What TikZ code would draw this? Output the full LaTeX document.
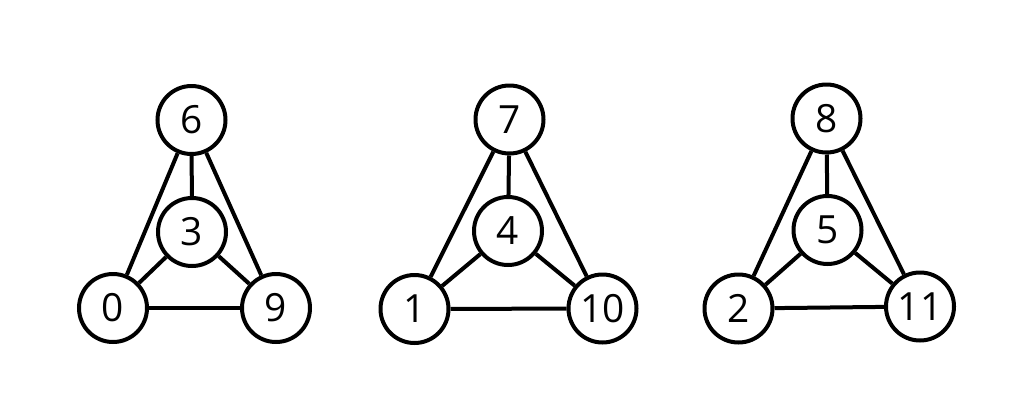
\documentclass[tikz,border=0pt]{standalone}
\usepackage{fontspec}
\setmainfont{Open Sans}
\begin{document}
\begin{tikzpicture}[x=1bp,y=-1bp,
  vtx/.style={circle,draw=black,line width=4bp,fill=white,minimum size=68bp,inner sep=0pt,font=\fontsize{39}{39}\selectfont},
  edge/.style={line width=4bp}]
\useasboundingbox (0,0) rectangle (1024,412);
% graph 1
\node[vtx] (n6) at (191.5,120) {6};
\node[vtx] (n3) at (192,232) {3};
\node[vtx] (n0) at (113,308) {0};
\node[vtx] (n9) at (276,308) {9};
% graph 2
\node[vtx] (n7) at (509.5,119.5) {7};
\node[vtx] (n4) at (508,231) {4};
\node[vtx] (n1) at (414.5,309) {1};
\node[vtx] (n10) at (602.5,308.5) {10};
% graph 3
\node[vtx] (n8) at (826.5,118.5) {8};
\node[vtx] (n5) at (827.5,230) {5};
\node[vtx] (n2) at (738.5,308.5) {2};
\node[vtx] (n11) at (920,306.5) {11};
\foreach \a/\b in {n6/n3,n6/n0,n6/n9,n3/n0,n3/n9,n0/n9,
                   n7/n4,n7/n1,n7/n10,n4/n1,n4/n10,n1/n10,
                   n8/n5,n8/n2,n8/n11,n5/n2,n5/n11,n2/n11}
  \draw[edge] (\a) -- (\b);
\end{tikzpicture}
\end{document}
